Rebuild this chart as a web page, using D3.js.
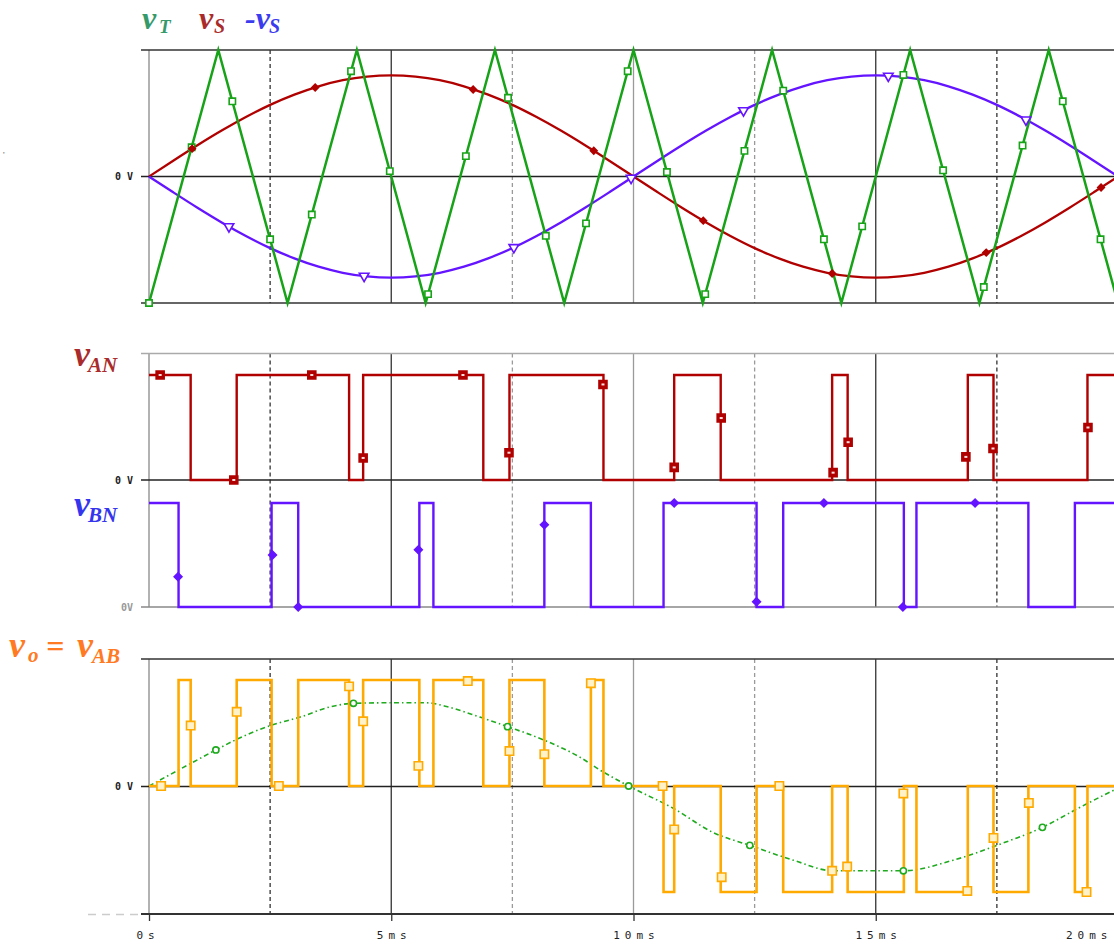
<!DOCTYPE html>
<html><head><meta charset="utf-8">
<script src="https://cdn.jsdelivr.net/npm/d3@7"></script>
<style>
html,body{margin:0;padding:0;background:#fff;}
svg{display:block;}
.tick text{font-family:"DejaVu Sans Mono",monospace;}
</style></head>
<body>
<svg id="c" width="1114" height="947"></svg>
<script>
// ---------------- DATA (time in ms) ----------------
// triangular carrier vT : vertices
const vtTimes  = [0,1.43,2.86,4.29,5.71,7.14,8.57,10,11.43,12.86,14.29,15.71,17.14,18.57,20];
const vtValues = [-1,1,-1,1,-1,1,-1,1,-1,1,-1,1,-1,1,-1];
// sinusoidal reference vS sampled every 0.5 ms
const vsTimes  = [0,0.5,1,1.5,2,2.5,3,3.5,4,4.5,5,5.5,6,6.5,7,7.5,8,8.5,9,9.5,10,
                  10.5,11,11.5,12,12.5,13,13.5,14,14.5,15,15.5,16,16.5,17,17.5,18,18.5,19,19.5,20];
const vsValues = [0,0.125,0.247,0.363,0.47,0.566,0.647,0.713,0.761,0.79,0.8,0.79,0.761,0.713,0.647,0.566,0.47,0.363,0.247,0.125,0,
                  -0.125,-0.247,-0.363,-0.47,-0.566,-0.647,-0.713,-0.761,-0.79,-0.8,-0.79,-0.761,-0.713,-0.647,-0.566,-0.47,-0.363,-0.247,-0.125,0];
// marker times on top traces
const vtMarkTimes = [0,0.88,1.72,2.5,3.36,4.17,4.97,5.76,6.54,7.41,8.19,9.02,9.88,10.69,11.48,12.29,13.09,13.93,14.72,15.57,16.39,17.23,18.03,18.86,19.64];
const vsMarkTimes = [0.89,3.43,6.69,9.18,11.44,14.1,17.28,19.65];
const nvsMarkTimes = [1.65,4.44,7.53,9.95,12.27,15.26,18.1];

// vAN switching instants and levels
const anTimes  = [0,0.86,1.81,4.13,4.42,6.9,7.44,9.38,10.84,11.8,14.1,14.42,16.9,17.43,19.37];
const anLevels = [1,0,1,0,1,0,1,0,1,0,1,0,1,0,1];
const anMarkT  = [0.23,1.75,3.36,4.42,6.48,7.43,9.37,10.84,11.81,14.12,14.43,16.86,17.42,19.38];
const anMarkV  = [1,0,1,0.21,1,0.26,0.91,0.12,0.59,0.07,0.36,0.22,0.3,0.5];

// vBN switching instants and levels
const bnTimes  = [0,0.61,2.53,3.08,5.58,5.87,8.16,9.12,10.62,12.54,13.09,15.58,15.84,18.15,19.11];
const bnLevels = [1,0,1,0,1,0,1,0,1,0,1,0,1,0,1];
const bnMarkT  = [0.6,2.55,3.08,5.56,8.16,10.84,12.54,13.93,15.56,17.05];
const bnMarkV  = [0.29,0.5,0,0.55,0.79,1,0.05,1,0,1];

// vo = vAB
const voTimes  = [0,0.61,0.86,1.81,2.53,3.08,4.13,4.42,5.58,5.87,6.9,7.44,8.16,9.12,9.38,
                  10.62,10.84,11.8,12.54,13.09,14.1,14.42,15.58,15.84,16.9,17.43,18.15,19.11,19.37];
const voLevels = [0,1,0,1,0,1,0,1,0,1,0,1,0,1,0,-1,0,-1,0,-1,0,-1,0,-1,0,-1,0,-1,0];
const voMarkT  = [0.25,0.86,1.81,2.68,4.13,4.42,5.56,6.58,7.44,8.16,9.12,10.6,10.84,11.82,13.01,14.1,14.41,15.57,16.89,17.43,18.16,19.35];
const voMarkV  = [0,0.57,0.7,0,0.94,0.61,0.19,0.99,0.33,0.3,0.97,0,-0.41,-0.86,0,-0.8,-0.76,-0.07,-0.99,-0.49,-0.16,-1];
// fundamental (averaged) of vo
const fundT = [0,0.85,1.38,1.81,2.5,3.12,3.77,4.22,4.97,5.73,6.14,6.83,7.4,8.17,8.9,9.31,9.9,
               10.82,11.65,12.4,13.3,14.12,14.88,15.57,16.6,17.56,18.44,19.22,20];
const fundV = [0,0.21,0.34,0.44,0.57,0.65,0.75,0.78,0.785,0.785,0.75,0.65,0.56,0.43,0.27,0.15,0,
               -0.21,-0.44,-0.56,-0.7,-0.8,-0.8,-0.8,-0.7,-0.55,-0.39,-0.2,-0.02];
const fundMarkT = [1.38,4.22,7.4,9.9,12.4,15.57,18.44];

const xTicks = [0,5,10,15,20];
const xTickLabels = ["0s","5ms","10ms","15ms","20ms"];
const solidGrid = [5,10,15];
const dashGrid = [2.5,7.5,12.5,17.5];

// ---------------- SCALES ----------------
const svg = d3.select("#c");
const x = d3.scaleLinear().domain([0,20]).range([149,1118]);
const yTop = d3.scaleLinear().domain([-1,1]).range([303,50]);
const yAN = d3.scaleLinear().domain([0,1]).range([480,375]);
const yBN = d3.scaleLinear().domain([0,1]).range([607,503]);
const yVo = d3.scaleLinear().domain([-1,1]).range([892,680]);

const COL = {green:"#17a317", red:"#b00000", blue:"#6414ff", orange:"#ffaa00", fund:"#1faa1f"};

// ---------------- GRID ----------------
const gridCol = t => (t===10||t===7.5||t===12.5) ? "#9a9a9a" : "#333";
function grid(y0,y1){
  const g = svg.append("g");
  g.selectAll("line.s").data(solidGrid).join("line")
    .attr("x1",d=>x(d)).attr("x2",d=>x(d)).attr("y1",y0).attr("y2",y1)
    .attr("stroke",gridCol).attr("stroke-width",1.3);
  g.selectAll("line.d").data(dashGrid).join("line")
    .attr("x1",d=>x(d)).attr("x2",d=>x(d)).attr("y1",y0).attr("y2",y1)
    .attr("stroke",gridCol).attr("stroke-width",1.3).attr("stroke-dasharray","4,3");
  g.append("line").attr("x1",x(0)).attr("x2",x(0)).attr("y1",y0).attr("y2",y1)
    .attr("stroke","#999").attr("stroke-width",1.5);
}
function hline(y,col,w){
  svg.append("line").attr("x1",141).attr("x2",1114).attr("y1",y).attr("y2",y)
    .attr("stroke",col).attr("stroke-width",w||1.6);
}
// top panel
grid(yTop(1),yTop(-1));
hline(yTop(1),"#333"); hline(yTop(0),"#222"); hline(yTop(-1),"#333");
// middle panel
grid(353.5,yBN(0));
hline(353.5,"#aaa"); hline(yAN(0),"#222"); hline(yBN(0),"#888");
// bottom panel
grid(659,914);
hline(659,"#333"); hline(yVo(0)+0.5,"#222");

// bottom x axis
const LS = 5;
const xAxis = d3.axisBottom(x).tickValues(xTicks).tickFormat((d,i)=>xTickLabels[i]).tickSize(7).tickPadding(10);
const ax = svg.append("g").attr("transform","translate(0,914)").call(xAxis);
ax.select(".domain").attr("stroke","#333").attr("stroke-width",1.8).attr("d","M141,0H1114");
ax.selectAll(".tick line").attr("stroke","#333").attr("stroke-width",1.3);
ax.selectAll(".tick text").attr("font-size",11).attr("fill","#222").attr("letter-spacing",LS+"px").attr("dx",LS/2);
ax.selectAll(".tick text").filter((d)=>d===20).attr("text-anchor","end").attr("dx", 1112 - x(20));
ax.selectAll(".tick text").filter((d)=>d===0).attr("dx",-4 + LS/2);
svg.append("line").attr("x1",88).attr("x2",138).attr("y1",914.5).attr("y2",914.5)
  .attr("stroke","#ccc").attr("stroke-width",1.3).attr("stroke-dasharray","8,6");

// "0 V" labels via axisLeft
function zeroLabel(scale, label, col){
  const a = svg.append("g").attr("transform","translate(141,0)")
    .call(d3.axisLeft(scale).tickValues([0]).tickFormat(()=>label).tickSize(0).tickPadding(8));
  a.select(".domain").remove();
  a.selectAll(".tick text").attr("font-size",10).attr("fill",col).attr("font-weight","bold");
}
zeroLabel(yTop,"0 V","#222");
zeroLabel(yAN,"0 V","#222");
zeroLabel(yBN,"0V","#999");
zeroLabel(yVo,"0 V","#222");
svg.append("text").attr("x",3).attr("y",158).attr("font-size",9).attr("fill","#666").text("'");

// ---------------- TRACES ----------------
const lineLin = (ys) => d3.line().x(d=>x(d[0])).y(d=>ys(d[1]));
const vtData = vtTimes.map((t,i)=>[t,vtValues[i]]);
const vsData = vsTimes.map((t,i)=>[t,vsValues[i]]);
const nvsData = vsTimes.map((t,i)=>[t,-vsValues[i]]);

const gTop = svg.append("g");
gTop.append("path").datum(vsData).attr("d",lineLin(yTop).curve(d3.curveMonotoneX))
  .attr("fill","none").attr("stroke",COL.red).attr("stroke-width",2.3);
gTop.append("path").datum(nvsData).attr("d",lineLin(yTop).curve(d3.curveMonotoneX))
  .attr("fill","none").attr("stroke",COL.blue).attr("stroke-width",2.3);
gTop.append("path").datum(vtData).attr("d",lineLin(yTop))
  .attr("fill","none").attr("stroke",COL.green).attr("stroke-width",2.5);

const vtInterp = d3.scaleLinear().domain(vtTimes).range(vtValues);
const vsInterp = d3.scaleLinear().domain(vsTimes).range(vsValues);

function markers(g, pts, type, size, fill, stroke, rot){
  g.selectAll(null).data(pts).join("path")
    .attr("d", d3.symbol().type(type).size(size))
    .attr("transform", d=>`translate(${d[0]},${d[1]}) rotate(${rot||0})`)
    .attr("fill",fill).attr("stroke",stroke).attr("stroke-width",1.6);
}
markers(gTop, vtMarkTimes.map(t=>[x(t),yTop(vtInterp(t))]), d3.symbolSquare, 40, "#fff", COL.green);
markers(gTop, vsMarkTimes.map(t=>[x(t),yTop(vsInterp(t))]), d3.symbolSquare, 22, COL.red, COL.red, 45);
markers(gTop, nvsMarkTimes.map(t=>[x(t),yTop(-vsInterp(t))]), d3.symbolTriangle, 40, "#fff", COL.blue, 180);

// step traces
function stepData(times, levels){
  const d = times.map((t,i)=>[t,levels[i]]);
  d.push([20, levels[levels.length-1]]);
  return d;
}
const gMid = svg.append("g");
gMid.append("path").datum(stepData(anTimes,anLevels))
  .attr("d", lineLin(yAN).curve(d3.curveStepAfter))
  .attr("fill","none").attr("stroke",COL.red).attr("stroke-width",2.4);
markers(gMid, anMarkT.map((t,i)=>[x(t),yAN(anMarkV[i])]), d3.symbolSquare, 64, COL.red, COL.red);
gMid.selectAll(null).data(anMarkT.map((t,i)=>[x(t),yAN(anMarkV[i])])).join("rect")
  .attr("x",d=>d[0]-1.5).attr("y",d=>d[1]-1).attr("width",3).attr("height",2).attr("fill","#fbdede");

gMid.append("path").datum(stepData(bnTimes,bnLevels))
  .attr("d", lineLin(yBN).curve(d3.curveStepAfter))
  .attr("fill","none").attr("stroke",COL.blue).attr("stroke-width",2.4);
markers(gMid, bnMarkT.map((t,i)=>[x(t),yBN(bnMarkV[i])]), d3.symbolSquare, 30, COL.blue, COL.blue, 45);

// bottom
const gBot = svg.append("g");
gBot.append("path").datum(fundT.map((t,i)=>[t,fundV[i]]))
  .attr("d", lineLin(yVo).curve(d3.curveMonotoneX))
  .attr("fill","none").attr("stroke",COL.fund).attr("stroke-width",1.6).attr("stroke-dasharray","5,3,1.5,3");
gBot.append("path").datum(stepData(voTimes,voLevels))
  .attr("d", lineLin(yVo).curve(d3.curveStepAfter))
  .attr("fill","none").attr("stroke",COL.orange).attr("stroke-width",2.6).attr("stroke-linejoin","miter");
const fundInterp = d3.scaleLinear().domain(fundT).range(fundV);
markers(gBot, fundMarkT.map(t=>[x(t),yVo(fundInterp(t))]), d3.symbolCircle, 30, "#fff", COL.fund);
markers(gBot, voMarkT.map((t,i)=>[x(t),yVo(voMarkV[i])]), d3.symbolSquare, 70, "#fff1c8", COL.orange);

// ---------------- TITLES ----------------
function title(parts, col){
  const t = svg.append("text").attr("font-family","'Liberation Serif','Times New Roman',serif")
    .attr("font-style","italic").attr("font-weight","bold").attr("fill",col);
  parts.forEach(p=>{
    t.append("tspan").attr("x",p.x).attr("y",p.y).attr("font-size",p.s).text(p.t);
  });
}
title([{t:"v",x:142,y:29,s:32},{t:"T",x:159,y:33,s:19}],"#35996a");
title([{t:"v",x:199,y:29,s:32},{t:"S",x:214,y:33,s:20}],"#a92b2b");
title([{t:"-v",x:245,y:29,s:32},{t:"S",x:269,y:33,s:20}],"#3b3bf0");
title([{t:"v",x:74,y:366,s:36},{t:"AN",x:88,y:372,s:21}],"#a92b2b");
title([{t:"v",x:74,y:516,s:36},{t:"BN",x:88,y:522,s:21}],"#3535ee");
title([{t:"v",x:9,y:657,s:36},{t:"o",x:28,y:662,s:21},{t:"=",x:46,y:657,s:32},{t:"v",x:77,y:657,s:36},{t:"AB",x:92,y:663,s:21}],"#ff7a22");
</script>
</body></html>
